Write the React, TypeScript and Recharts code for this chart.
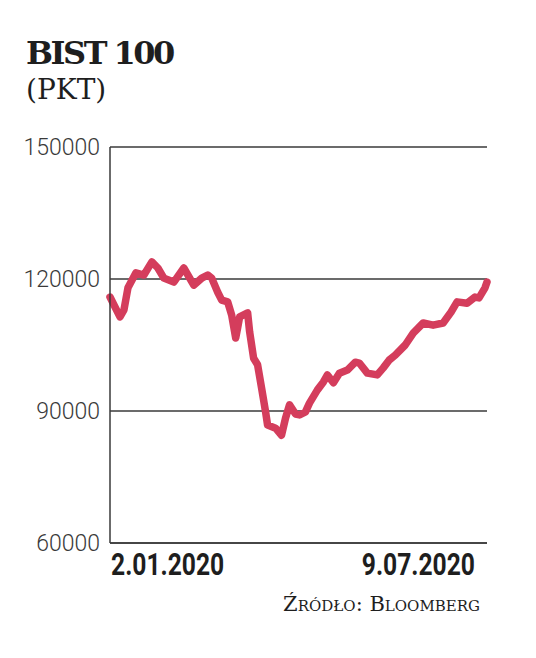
import { LineChart, Line, XAxis, YAxis, CartesianGrid } from 'recharts'

// days since 2.01.2020 and BIST 100 close (pts)
const days = [
  0, 5, 7, 9, 13, 17, 21, 24, 27, 32, 37, 42, 46, 49, 51, 54, 56, 59, 61, 63, 64, 65, 69, 70, 72,
  74, 76, 78, 79, 83, 86, 88, 90, 93, 95, 98, 100, 104, 107, 109, 112, 115, 119, 123, 125, 129,
  134, 137, 140, 143, 148, 152, 157, 162, 167, 171, 174, 179, 183, 185, 188, 189,
]
const values = [
  115900, 111400, 113000, 118000, 121400, 120900, 123900, 122500, 120200, 119300, 122500, 118600,
  120200, 120900, 120200, 117000, 115200, 114800, 111800, 106600, 108900, 111400, 112300, 108000,
  102000, 100500, 95200, 89800, 86800, 86100, 84500, 88400, 91400, 89300, 89100, 89800, 91800,
  94800, 96600, 98200, 96400, 98600, 99300, 101100, 100900, 98600, 98200, 99800, 101600, 102700,
  105000, 107700, 110000, 109500, 110000, 112500, 114800, 114500, 115900, 115700, 118000, 119300,
]
const yTicks = [60000, 90000, 120000, 150000]
const xTicks = [0, 189]
const xTickLabels = ['2.01.2020', '9.07.2020']

const data = days.map((d, i) => ({ day: d, value: values[i] }))

const AXIS = '#3a3a3a'

function DateTick({ x, y, payload }: any) {
  const i = xTicks.indexOf(payload.value)
  const last = i === xTicks.length - 1
  return (
    <g transform={`translate(${last ? x - 12 : x + 1},${y})`}>
      <text
        x={0}
        y={24}
        transform="scale(0.77,1)"
        textAnchor={last ? 'end' : 'start'}
        fontFamily="Roboto, sans-serif"
        fontWeight={700}
        fontSize={32}
        fill="#1e1e1e"
      >
        {xTickLabels[i]}
      </text>
    </g>
  )
}

export default function App() {
  return (
    <div style={{ position: 'absolute', left: 0, top: 0, width: 536, height: 658, background: '#fff' }}>
      <LineChart width={536} height={658} data={data} margin={{ top: 147, right: 49, bottom: 0, left: 0 }}>
        <CartesianGrid horizontal vertical={false} stroke={AXIS} strokeWidth={1.5} />
        <XAxis
          dataKey="day"
          type="number"
          domain={[0, 189]}
          ticks={xTicks}
          height={115}
          tickLine={false}
          axisLine={{ stroke: AXIS, strokeWidth: 1.5 }}
          tick={<DateTick />}
        />
        <YAxis
          domain={[60000, 150000]}
          ticks={yTicks}
          width={110}
          tickLine={false}
          tickMargin={4}
          axisLine={{ stroke: AXIS, strokeWidth: 1.5 }}
          tick={{ fontFamily: 'Roboto, sans-serif', fontWeight: 300, fontSize: 23, fill: '#3a3a3a' }}
        />
        <Line
          type="linear"
          dataKey="value"
          stroke="#d43d5c"
          strokeWidth={7.5}
          strokeLinejoin="round"
          strokeLinecap="round"
          dot={false}
          isAnimationActive={false}
        />
      </LineChart>
      <div
        style={{
          position: 'absolute', left: 26, top: 35,
          fontFamily: '"DejaVu Serif", serif', fontWeight: 700, fontSize: 32, letterSpacing: -2.5,
          color: '#1e1e1e', lineHeight: '36px', whiteSpace: 'nowrap',
        }}
      >
        BIST 100
      </div>
      <div
        style={{
          position: 'absolute', left: 26, top: 72,
          fontFamily: '"DejaVu Serif", serif', fontSize: 28,
          color: '#1e1e1e', lineHeight: '36px', whiteSpace: 'nowrap',
        }}
      >
        (PKT)
      </div>
      <div
        style={{
          position: 'absolute', right: 56, top: 593,
          fontFamily: '"DejaVu Serif", serif', fontSize: 21, fontVariant: 'small-caps',
          color: '#1e1e1e', lineHeight: '22px', whiteSpace: 'nowrap',
        }}
      >
        Źródło: Bloomberg
      </div>
    </div>
  )
}
